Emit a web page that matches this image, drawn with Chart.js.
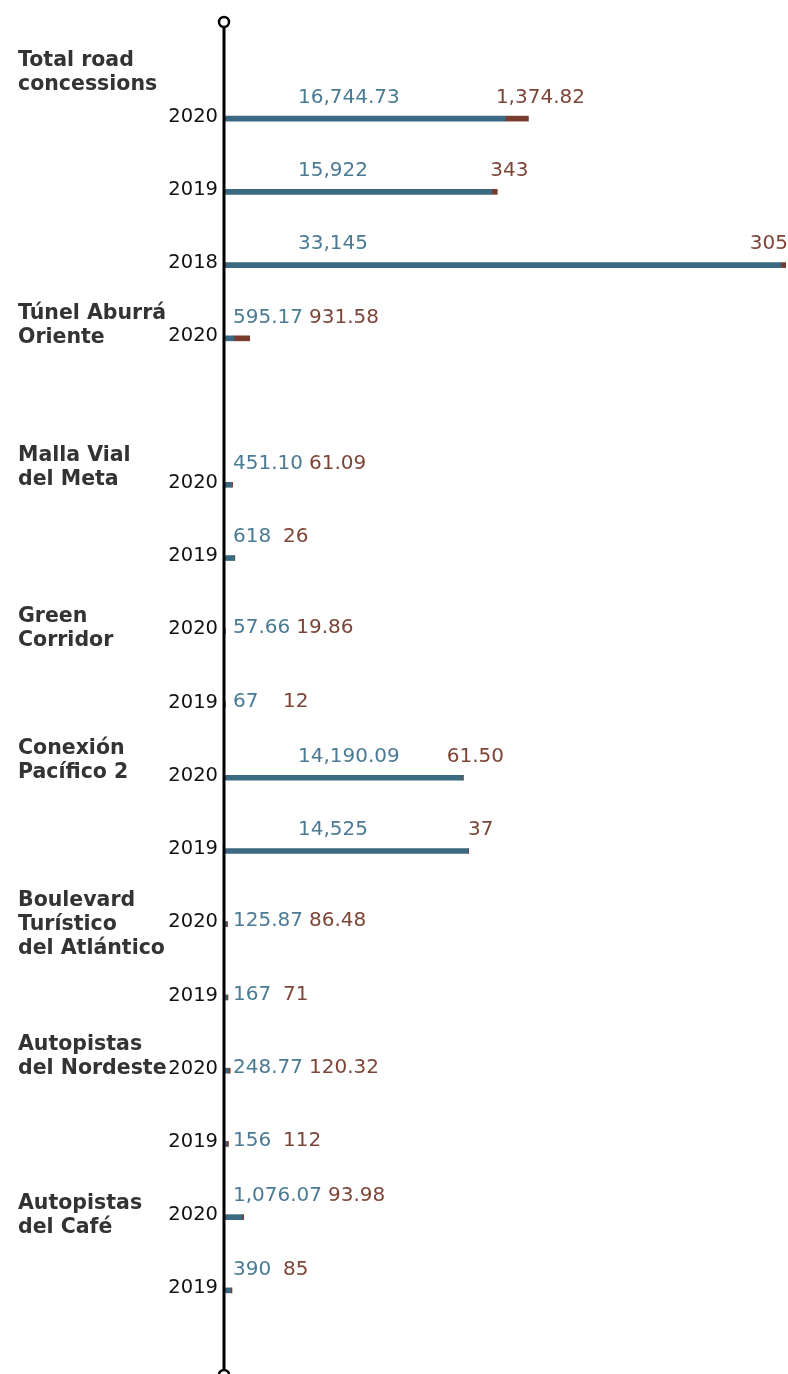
<!DOCTYPE html>
<html>
<head>
<meta charset="utf-8">
<script src="https://cdn.jsdelivr.net/npm/chart.js@4/dist/chart.umd.min.js"></script>
<style>
  body { margin: 0; background: #fff; }
  #wrap { width: 788px; height: 1374px; position: relative; }
</style>
</head>
<body>
<div id="wrap"><canvas id="myChart"></canvas></div>
<script>
// rows of the chart, top to bottom (one empty row after Túnel Aburrá Oriente)
const years = ['2020', '2019', '2018', '2020', '', '2020', '2019', '2020', '2019',
               '2020', '2019', '2020', '2019', '2020', '2019', '2020', '2019'];
const blueValues = [16744.73, 15922, 33145, 595.17, null, 451.10, 618, 57.66, 67,
                    14190.09, 14525, 125.87, 167, 248.77, 156, 1076.07, 390];
const brownValues = [1374.82, 343, 305, 931.58, null, 61.09, 26, 19.86, 12,
                     61.50, 37, 86.48, 71, 120.32, 112, 93.98, 85];

const groupNames = [
    ['Total road', 'concessions'],
    ['Túnel Aburrá', 'Oriente'],
    ['Malla Vial', 'del Meta'],
    ['Green', 'Corridor'],
    ['Conexión', 'Pacífico 2'],
    ['Boulevard', 'Turístico', 'del Atlántico'],
    ['Autopistas', 'del Nordeste'],
    ['Autopistas', 'del Café']
];
const groupFirstRow = [0, 3, 5, 7, 9, 11, 13, 15];

// styling
const BLUE = '#3b6982';
const BROWN = '#773c2d';
const BLUE_TEXT = '#4a7a94';
const BROWN_TEXT = '#7d4538';
const titleShift = [-58, -25, -29, -15, -29, -24, -26, -13]; // first title line vs. row centre

function fmt(v, year) {
    const d = year === '2020' ? 2 : 0;
    return v.toLocaleString('en-US', { minimumFractionDigits: d, maximumFractionDigits: d });
}

const overlay = {
    id: 'overlay',
    afterDatasetsDraw(chart) {
        const ctx = chart.ctx;
        const area = chart.chartArea;
        const axisX = area.left;
        const yScale = chart.scales.y;
        const blueMeta = chart.getDatasetMeta(0).data;
        const brownMeta = chart.getDatasetMeta(1).data;

        ctx.save();
        // vertical axis line with the two end circles
        ctx.strokeStyle = '#000';
        ctx.lineWidth = 3;
        ctx.beginPath();
        ctx.moveTo(axisX, 27);
        ctx.lineTo(axisX, chart.height - 4);
        ctx.stroke();
        ctx.lineWidth = 2.5;
        [22, chart.height + 1].forEach(cy => {
            ctx.beginPath();
            ctx.arc(axisX, cy, 5, 0, Math.PI * 2);
            ctx.fillStyle = '#fff';
            ctx.fill();
            ctx.stroke();
        });

        // year labels
        ctx.font = '19.5px "DejaVu Sans"';
        ctx.fillStyle = '#111';
        ctx.textAlign = 'right';
        ctx.textBaseline = 'middle';
        years.forEach((y, i) => {
            if (y) ctx.fillText(y, axisX - 6, yScale.getPixelForValue(i) - 2);
        });

        // group titles
        ctx.font = 'bold 20.5px "DejaVu Sans"';
        ctx.fillStyle = '#333';
        ctx.textAlign = 'left';
        groupNames.forEach((lines, g) => {
            const top = yScale.getPixelForValue(groupFirstRow[g]) + titleShift[g];
            lines.forEach((t, k) => ctx.fillText(t, 18, top + k * 24));
        });

        // value labels
        ctx.font = '20px "DejaVu Sans"';
        blueValues.forEach((v, i) => {
            if (v === null) return;
            const b = blueMeta[i];
            const r = brownMeta[i];
            const rowY = yScale.getPixelForValue(i);
            const barW = b.x - axisX;
            const ty = barW >= 5 ? rowY - 21 : rowY - 3;
            const blueTxt = fmt(v, years[i]);
            const brownTxt = fmt(brownValues[i], years[i]);
            const bx = barW > 100 ? axisX + 74 : axisX + 9;
            ctx.fillStyle = BLUE_TEXT;
            ctx.textAlign = 'left';
            ctx.fillText(blueTxt, bx, ty);

            const bw = ctx.measureText(brownTxt).width;
            let rx;
            if (barW > 100) {
                rx = Math.min(r.x + 12 - bw / 2, chart.width - bw);
            } else {
                rx = Math.max(bx + ctx.measureText(blueTxt).width + 6, axisX + 59);
            }
            ctx.fillStyle = BROWN_TEXT;
            ctx.fillText(brownTxt, rx, ty);
        });
        ctx.restore();
    }
};

new Chart(document.getElementById('myChart'), {
    type: 'bar',
    data: {
        labels: years.map((y, i) => i),
        datasets: [
            { label: 'a', data: blueValues, backgroundColor: BLUE, barThickness: 5 },
            { label: 'b', data: brownValues, backgroundColor: BROWN, barThickness: 5 }
        ]
    },
    options: {
        indexAxis: 'y',
        responsive: true,
        maintainAspectRatio: false,
        animation: false,
        layout: { padding: { left: 224, right: 2, top: 82, bottom: 47 } },
        plugins: { legend: { display: false }, tooltip: { enabled: false } },
        scales: {
            x: { display: false, stacked: true, min: 0, max: 33450 },
            y: { display: false, stacked: true }
        }
    },
    plugins: [overlay]
});
</script>
</body>
</html>
